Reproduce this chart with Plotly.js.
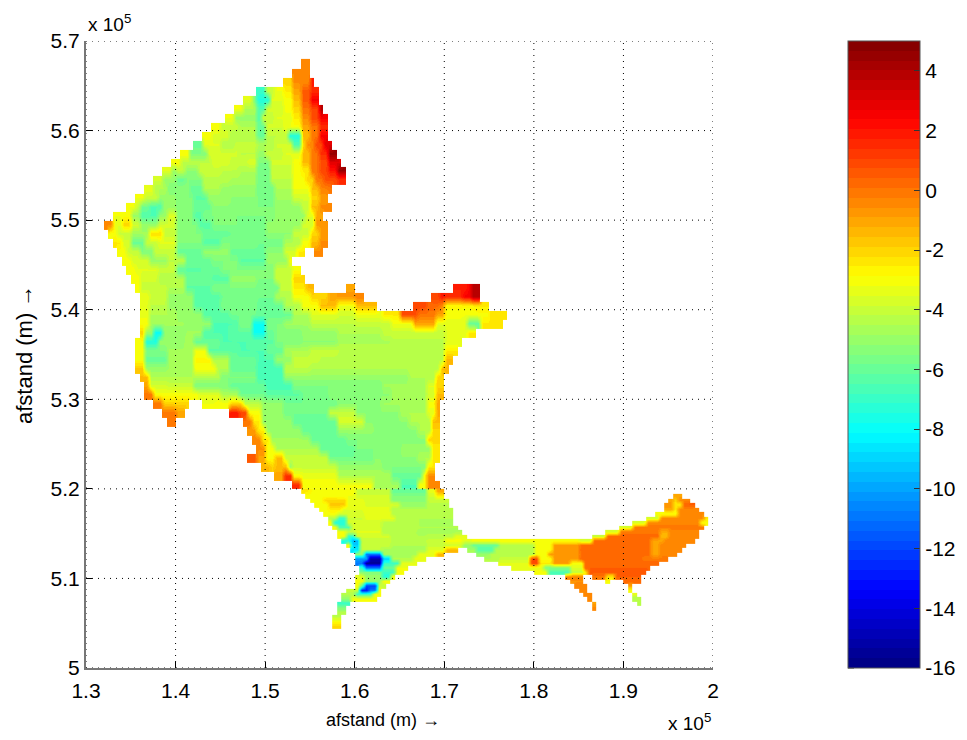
<!DOCTYPE html>
<html><head><meta charset="utf-8">
<script src="https://cdn.plot.ly/plotly-3.0.1.min.js"></script>
<style>html,body{margin:0;padding:0;background:#fff}</style></head>
<body><div id="chart" style="width:967px;height:740px"></div>
<script>
// Tick labels
const xTickVals=[130,140,150,160,170,180,190,200];
const xTickText=['1.3','1.4','1.5','1.6','1.7','1.8','1.9','2'];
const yTickVals=[500,510,520,530,540,550,560,570];
const yTickText=['5','5.1','5.2','5.3','5.4','5.5','5.6','5.7'];
const barTicks=[-16,-14,-12,-10,-8,-6,-4,-2,0,2,4];
// Depth. Each row: [y in km, [x0, x1, value], ...], x in km
const mainRows=[
[567,[154,155,-0.5]],
[566,[153,155,-0.5]],
[565,[152,153,-2],[153,155,-0.5],[155,155.5,2]],
[564,[149,150,-7],[150,151,-4],[151,152,-3.2],[152,153,-2.5],[153,154,-1],[154,155,0.5],[155,156,1.5]],
[563,[147.5,148.5,-3.5],[148.5,149,-5.5],[149,150.5,-7.5],[150.5,152,-3.5],[152,153,-3],[153,154,-1.5],[154,155,0.5],[155,156,2.5]],
[562,[146.5,147.5,-3.2],[147.5,149,-4.5],[149,150,-6.5],[150,152,-3.8],[152,153,-3],[153,154,-2],[154,155,0],[155,156,1],[156,156.5,4]],
[561,[145.5,146.5,-3.2],[146.5,149,-5],[149,149.5,-6.5],[149.5,151,-4],[151,153,-3.5],[153,154,-2.5],[154,155,-0.5],[155,156,1],[156,157,2.5]],
[560,[144,145,-3],[145,147,-4],[147,149,-4.5],[149,150,-6],[150,152,-3.8],[152,153,-3.2],[153,154,-3],[154,155,-1],[155,156,0],[156,157,1.5]],
[559,[143,144,-3],[144,146,-3.7],[146,149,-4.5],[149,150,-6],[150,152.5,-4.2],[152.5,154,-7.5],[154,155,-1.5],[155,156,0],[156,157,2.5]],
[558,[142,143,-6],[143,145,-3.5],[145,146.5,-4.5],[146.5,149,-4],[149,151,-4.5],[151,153,-3.8],[153,154,-6.5],[154,154.5,-2],[154.5,155.5,-0.5],[155.5,156.5,1],[156.5,157.5,3]],
[557,[140.5,141.5,-3],[141.5,143.5,-5.5],[143.5,147,-3.8],[147,149,-4.2],[149,150,-5],[150,152,-4],[152,154,-3.5],[154,155,-1.5],[155,156,0],[156,157,1.5],[157,158,4.5]],
[556,[139.5,140.5,-3],[140.5,144,-4.2],[144,146,-3.6],[146,148,-4],[148,149,-3.6],[149,150.5,-5.5],[150.5,153,-3.8],[153,154,-3],[154,155,-1.5],[155,156,0],[156,157,0.8],[157,158.5,3]],
[555,[138.5,139.5,-3.5],[139.5,140,-5],[140,141,-4.2],[141,142.5,-5.2],[142.5,145,-4],[145,147,-4.2],[147,149,-4.5],[149,150.5,-5.8],[150.5,153,-4],[153,154,-3],[154,155,-2.5],[155,156,0],[156,157,1],[157,158,2],[158,159,4.5]],
[554,[137.5,138.5,-3.8],[138.5,140,-5],[140,141,-6],[141,143,-5.5],[143,146,-4.3],[146,149,-4.6],[149,150.5,-5.8],[150.5,153,-4.2],[153,154.5,-3],[154.5,155.5,-2],[155.5,156.5,0],[156.5,158,0.8],[158,159,1.5]],
[553,[136.5,137.5,-3.3],[137.5,139,-4.5],[139,140,-5.5],[140,141.5,-5.2],[141.5,143,-6],[143,145,-4.5],[145,149,-5],[149,151,-5.8],[151,153,-4.5],[153,155,-3.2],[155,156,-1.5],[156,157,-0.3],[157,157.5,0]],
[552,[135.5,136.5,-3.2],[136.5,138,-4],[138,140,-5],[140,142,-5.5],[142,143.5,-6.2],[143.5,146,-5],[146,149,-5.2],[149,151,-5.6],[151,153,-4.8],[153,155,-3.8],[155,156,-2],[156,157,-0.8]],
[551,[134.5,135.5,-3.2],[135.5,136,-4],[136,137,-5.8],[137,138.5,-6.5],[138.5,140,-5],[140,142,-5.5],[142,144,-6],[144,147,-5.2],[147,151,-5.5],[151,154,-5],[154,155,-4],[155,156,-1.5],[156,157.5,-0.5]],
[550,[133,134,-3.2],[134,135,-3],[135,136,-5],[136,138,-6.5],[138,139,-5],[139,140,-3.5],[140,142,-5.5],[142,143,-6.3],[143,146,-5.5],[146,151,-5.5],[151,154.5,-5],[154.5,155.5,-3.5],[155.5,156.5,-1]],
[549,[132,133,-0.5],[133,134,-3.5],[134,135,-2],[135,136,-3.8],[136,138,-5],[138,140,-3.8],[140,142.5,-5.5],[142.5,144,-6.3],[144,147,-5.5],[147,150,-5.7],[150,154,-5],[154,155.5,-3.8],[155.5,156.8,-0.8]],
[548,[132.5,133.5,-3],[133.5,135,-4],[135,137,-4.8],[137,138.5,-2.2],[138.5,140,-4],[140,143,-5.5],[143,146,-6],[146,150,-5.8],[150,153,-5.2],[153,155,-4],[155,156,-2],[156,157,-0.8]],
[547,[133,134,-2.5],[134,135,-3.8],[135,136.5,-6],[136.5,138,-4],[138,140,-3.5],[140,143,-5.5],[143,145,-6.3],[145,149,-5.5],[149,152,-5.8],[152,154,-4.5],[154,155,-3],[155,156,-1.5],[156,157,-0.5]],
[546,[133.5,134.5,-3],[134.5,136,-4],[136,137.5,-5.5],[137.5,140,-4],[140,143,-6],[143,146,-5],[146,150,-6],[150,152,-5.2],[152,153.5,-3.8],[153.5,154.5,-2.5],[155.5,156.5,-0.5]],
[545,[134,135,-3],[135,137,-3.7],[137,139,-5],[139,141,-4.2],[141,144,-6],[144,147,-5.5],[147,150,-6.2],[150,152.5,-5],[152.5,153,-3]],
[544,[134.5,135.5,-3],[135.5,138,-3.5],[138,140,-4],[140,143,-6.2],[143,145,-6],[145,148,-5.5],[148,151,-5.5],[151,153,-4],[153,154,-3]],
[543,[135,136,-3],[136,138,-3.8],[138,141,-4.5],[141,144,-6],[144,146,-6.3],[146,149,-5],[149,151,-5.5],[151,153,-4],[153,154.5,-2]],
[542,[135.5,136,-3],[136,139,-4],[139,141,-4.5],[141,144,-6.2],[144,146,-5.5],[146,149,-5.5],[149,151.5,-5.8],[151.5,153,-4],[153,154.5,-2.5],[154.5,155.5,-1.5],[159,160,-1],[171,172.5,1.8],[172.5,173,2.5],[173,174,4]],
[541,[136,137,-3.2],[137,139,-4],[139,142,-5],[142,145,-6.3],[145,149,-5.8],[149,151,-5.8],[151,153,-4.5],[153,155,-3],[155,157,-2],[157,158,-1],[158,160,-0.8],[160,161,-0.3],[168.5,169.5,1],[169.5,170,2],[170,172,1.5],[172,173,2.5],[173,174,4]],
[540,[136,137,-3.5],[137,139,-4.2],[139,142,-5],[142,145,-6.3],[145,149,-5.5],[149,152,-6],[152,154,-4.5],[154,156,-3],[156,158,-1.5],[158,160,-3.2],[160,162.5,-1.5],[166.5,168,1],[168,169.5,0.2],[169.5,170,-0.5],[170,173,-2.8],[173,175,-2.5]],
[539,[136,137,-3.3],[137,140,-4.5],[140,143,-5],[143,146,-6.3],[146,149,-5.8],[149,153,-6],[153,155,-4.5],[155,158,-3.5],[158,160,-3.8],[160,163,-3.3],[163,165,-2.5],[165,167,0.8],[167,169,0],[169,170,-1],[170,172,-3],[172,173.5,-3.2],[173.5,175,-3],[175,177,-2.3]],
[538,[136,137,-3],[137,141,-4.8],[141,144,-5],[144,147,-6.5],[147,148.5,-5.5],[148.5,150,-7.8],[150,152,-5.5],[152,155,-4.8],[155,160,-4.2],[160,164,-4],[164,166.5,-3.2],[166.5,169,-1],[169,172.5,-3.5],[172.5,174,-6],[174,176.5,-2.5]],
[537,[136,136.5,-2],[136.5,137.5,-5],[137.5,138.5,-8],[138.5,141,-5],[141,143,-4.8],[143,146,-6.5],[146,148.5,-6.2],[148.5,150,-7.8],[150,151,-6],[151,154,-5.5],[154,158,-5],[158,163,-4.5],[163,170,-4],[170,172.5,-3.5],[172.5,173.5,-2.5]],
[536,[135.5,136.5,-3],[136.5,138,-7.5],[138,141,-5],[141,142,-4.5],[142,145,-6],[145,148,-6.5],[148,151,-6.2],[151,154,-5.5],[154,158,-5.2],[158,164,-4.6],[164,170,-4.3],[170,172,-3.5]],
[535,[135.5,136.5,-3.2],[136.5,139,-5.5],[139,142,-4.8],[142,143.5,-3.2],[143.5,147,-6.2],[147,150,-6.5],[150,152,-6],[152,155,-4.5],[155,158,-4],[158,164,-4.2],[164,170,-4.3],[170,171.5,-2.5]],
[534,[135.5,136.5,-3],[136.5,139,-6],[139,142,-4.8],[142,144,-2.8],[144,146,-4.5],[146,149,-6],[149,151,-6.5],[151,153,-5],[153,156,-4],[156,161,-4.3],[161,170,-4.3],[170,171,-1.5]],
[533,[135.5,136.5,-1.8],[136.5,139,-5],[139,142,-4.8],[142,144.5,-3],[144.5,146,-4.5],[146,149,-6],[149,152,-6.7],[152,155,-4.2],[155,158,-4.5],[158,166,-4.5],[166,169.5,-4.3],[169.5,170.5,-1.5]],
[532,[136,137,-1.5],[137,141,-4.5],[141,145,-4.5],[145,149,-5.5],[149,152,-6.7],[152,156,-5],[156,160,-5],[160,166,-5],[166,169,-4.5],[169,170,-2]],
[531,[136.5,137,-1],[137,139,-3.8],[139,142,-4],[142,146,-5.5],[146,150,-6],[150,153,-6.7],[153,157,-5.5],[157,163,-5.5],[163,168,-4.8],[168,169,-3.5],[169,170,-2]],
[530,[136.5,137.5,0],[137.5,140,-3],[140,142.5,-3],[142.5,145,-3.5],[145,147,-4.5],[147,150,-5.8],[150,154,-6.2],[154,157,-5.8],[157,164,-5.2],[164,168,-4.6],[168,169,-3.8],[169,170,-1.5]],
[529,[137.5,138.5,0],[138.5,141.5,-2],[143,144.5,-3.2],[144.5,146,-3],[146,147.5,-2],[147.5,149.5,-4.2],[149.5,152,-5],[152,158,-5.8],[158,163,-5.2],[163,168,-4.8],[168,169,-3],[169,169.5,-1]],
[528,[138.5,140,0],[140,141,-1],[146,147,2],[147,148,1],[148,149.5,-3],[149.5,152,-5],[152,157,-5.8],[157,160,-4],[160,165,-5.2],[165,168,-4.5],[168,169,-3.5],[169,169.5,-1]],
[527,[139,140,0],[147.5,148.5,0],[148.5,149.5,-2.5],[149.5,153,-5],[153,158,-6],[158,161,-3.7],[161,166,-5.2],[166,168.5,-4.5],[168.5,169.5,-1.5]],
[526,[148,149,-0.8],[149,150,-2.5],[150,154,-5],[154,158,-6],[158,162,-5],[162,167,-5.3],[167,168.5,-4.5],[168.5,169.5,-2]],
[525,[148.5,149.5,-0.3],[149.5,150.5,-2.5],[150.5,155,-4.8],[155,159,-6],[159,163,-5.5],[163,168,-5.3],[168,169.5,-2]],
[524,[149,150,-0.5],[150,151,-3],[151,156,-4.5],[156,160,-6],[160,165,-5.5],[165,168.5,-5],[168.5,169.5,-2.5]],
[523,[148,149,0.5],[149,150,-1],[150,151,-3],[151,152,-1.5],[152,157,-4],[157,162,-5.8],[162,167,-5.2],[167,168.5,-4.5],[168.5,169.5,-2.5]],
[522,[149.5,150.5,-1.5],[150.5,151,-2],[151,152.5,-1.5],[152.5,153,-5],[153,158,-4],[158,163,-5],[163,168,-5.5],[168,169,-2.5]],
[521,[151,152,-1],[152,153,1.5],[153,154,-3],[154,158,-3.3],[158,164,-4.5],[164,167.5,-6],[167.5,168,-3],[168,169,-0.5]],
[520,[153,154,1.5],[154,158,-3],[158,162,-3.2],[162,165,-4.8],[165,167,-6.5],[167,168,-3],[168,169.5,-0.5]]
];
const fineRows=[
[519.5,[154,155,-2.5],[155,160,-3],[160,164,-4],[164,168,-6],[168,169,-3.3],[169,170,-1]],
[519,[154.5,158,-3],[158,160,-3.2],[160,164,-3.8],[164,168,-5.5],[168,169,-3.8],[169,170,-2.5],[195.5,196.5,-1]],
[518.5,[155,156.5,-3],[156.5,159,-2],[159,161,-3.3],[161,164,-3.8],[164,168,-5.3],[168,170.5,-4],[195,195.5,-1],[195.5,196,-2],[196,197.5,-0.5]],
[518,[155.5,157,-3],[157,159,-1.8],[159,161,-3.3],[161,165,-3.7],[165,168,-5],[168,170.5,-4.3],[194.5,195.5,-0.8],[195.5,196.5,-2.5],[196.5,198,0.5]],
[517.5,[156,157,-3],[157,158.5,-2.5],[158.5,161,-3.5],[161,164,-3.3],[164,167,-4.5],[167,171,-4.5],[194.5,195.5,-1],[195.5,196,-2.5],[196,198.5,-0.5]],
[517,[156.5,158,-3],[158,161,-3.7],[161,164,-3.2],[164,167,-4.3],[167,171,-4.5],[193.5,196,-3],[196,199,-0.5]],
[516.5,[157,158,-4.5],[158,159,-7],[159,161,-3.9],[161,164.5,-3.4],[164.5,167,-4.5],[167,171,-4.5],[192.5,194,-3.8],[194,199,-0.5],[199,199.5,-2.5]],
[516,[157,157.5,-3],[157.5,159,-7.5],[159,163,-3.8],[163,167,-4.3],[167,171,-4.6],[191,192.5,-3.8],[192.5,198.5,-0.3],[198.5,199.5,-3]],
[515.5,[157.5,158,-3],[158,159.5,-6.5],[159.5,163,-3.7],[163,167,-4.4],[167,171.5,-4.5],[189.5,191,-3.8],[191,199,-0.2]],
[515,[158,159,-3.2],[159,160,-4],[160,163,-3.5],[163,167,-4.5],[167,172,-4.6],[188,189.5,-3.8],[189.5,194,0],[194,195,-1.2],[195,198.5,-0.3]],
[514.5,[158,159,-3],[159,160,-7],[160,164,-3.8],[164,168,-4.5],[168,171,-4.4],[171,172.5,-3.5],[186.5,188,-4],[188,194,0.2],[194,195,-1.5],[195,198.5,-0.3]],
[514,[158.5,159.5,-7.5],[159.5,160.5,-9.5],[160.5,164,-4],[164,168,-4.3],[168,170,-4],[170,172,-3],[172,173,-3.5],[173,185,-3],[185,186.5,-3.8],[186.5,193,0.3],[193,194.5,-1],[194.5,198,-0.3]],
[513.5,[159,159.5,-3],[159.5,160.5,-9],[160.5,164,-4],[164,168,-4.5],[168,170.5,-4],[170.5,172,-3.8],[172,173,-5],[173,176,-6],[176,180,-4.5],[180,182,-3],[182,185,-0.8],[185,193,0.3],[193,194,-1],[194,197,-0.3]],
[513,[159.5,160.5,-8.5],[160.5,163,-4.2],[163,168,-4.6],[168,170,-3.5],[170,171.5,-1.5],[172.5,173.5,-4.8],[173.5,175.5,-6.5],[175.5,180,-4.5],[180,182,-3],[182,185,-0.8],[185,191,0.4],[191,193,0.2],[193,194,-1],[194,196.5,-0.3]],
[512.5,[160,161,-5],[161,163,-11],[163,167,-4.6],[167,169,-3.3],[169,170,-1.5],[173.5,175,-5],[175,180,-4.5],[180,181.5,-3.2],[181.5,185,-0.8],[185,193,0.3],[193,194,-1],[194,196,-0.3]],
[512,[160,161.5,-10],[161.5,163,-15],[163,164,-9],[164,166.5,-4.5],[166.5,168,-3.3],[174.5,176,-4.5],[176,179.5,-4],[179.5,180.5,0.8],[180.5,182,-3],[182,185,-0.8],[185,192,0.4],[192,195,-0.2]],
[511.5,[160,161,-11],[161,163,-15.5],[163,165,-7],[165,167,-3.5],[176,179.5,-3.5],[179.5,180.5,1],[180.5,182,-2.5],[182,184,-0.8],[184,185.5,-3],[185.5,194,0.4]],
[511,[160.5,161,-7],[161,163,-11],[163,164.5,-6],[164.5,166,-3.2],[177.5,181,-3.3],[181,184,-5.5],[184,185.5,-3.5],[185.5,193,0.4]],
[510.5,[160.5,163,-5.5],[163,164.5,-7],[164.5,165.5,-3],[180,181.5,-3],[181.5,184,-6.5],[184,185.5,-4],[185.5,186,-2.5],[186,192.5,0.5]],
[510,[160,161,-3.5],[161,163,-5],[163,164,-7.5],[164,164.5,-3],[183.5,185.5,-0.5],[186.5,188,0],[188,189,-2.5],[189,192,0.4]],
[509.5,[160,161,-3],[161,163,-5],[163,164,-3],[184,185.5,-0.6],[188,188.5,-3],[190,192,0.2]],
[509,[160,160.5,-3],[160.5,161,-6],[161,162.5,-12],[162.5,163.5,-4],[184.5,186,-0.5],[190.5,191,-1]],
[508.5,[159,160.5,-4],[160.5,161.5,-13],[161.5,162.5,-11],[162.5,163,-3],[185,186,-0.5],[190.5,191,-3]],
[508,[158.5,160,-4.5],[160,162,-7],[162,163,-3],[185.5,186.5,-0.5],[191,191.5,-3.5]],
[507.5,[158.5,159.5,-5],[159.5,162.5,-3.2],[186,186.5,-0.5],[191,192,-4.5]],
[507,[158,159.5,-7],[186.5,187,-1],[191.5,192,-4.5]],
[506.5,[158,159,-5.5],[186.5,187,-0.5]],
[506,[158,159,-4.5]],
[505.5,[157.5,158.5,-4.2]],
[505,[157.5,158.5,-3]],
[504.5,[157.5,158.5,-2.2]]
];
// Jet colormap, 64 flat bands
function jet(t){const c=v=>Math.round(255*Math.max(0,Math.min(1,1.5-Math.abs(4*t-v))));return `rgb(${c(3)},${c(2)},${c(1)})`;}
const scale=[];for(let i=0;i<64;i++){const col=jet((i+.5)/64);scale.push([i/64,col],[(i+1)/64,col]);}
function grid(rows,x0,x1,y0,y1,dx,dy){
  const xs=[],ys=[],z=[];
  const nx=Math.round((x1-x0)/dx),ny=Math.round((y1-y0)/dy);
  for(let i=0;i<=nx;i++)xs.push(x0+i*dx);
  for(let j=0;j<=ny;j++)ys.push(y0+j*dy);
  for(let j=0;j<ny;j++)z.push(new Array(nx).fill(null));
  rows.forEach(r=>{const j=Math.round((r[0]-y0)/dy);
    r.slice(1).forEach(s=>{for(let i=Math.round((s[0]-x0)/dx);i<Math.round((s[1]-x0)/dx);i++)z[j][i]=s[2];});});
  return {type:'heatmap',x:xs,y:ys,z:z,coloraxis:'coloraxis',connectgaps:false,zsmooth:'best'};
}
const traces=[grid(mainRows,130,180,520,568,0.5,1),grid(fineRows,150,200,504,520,0.5,0.5)];
const shapes=[];
const dots={color:'#000',width:1,dash:'1px,5px'};
xTickVals.forEach(v=>shapes.push({type:'line',xref:'x',yref:'paper',x0:v,x1:v,y0:0,y1:1,line:dots,layer:'above'}));
yTickVals.forEach(v=>shapes.push({type:'line',xref:'paper',yref:'y',x0:0,x1:1,y0:v,y1:v,line:dots,layer:'above'}));
const barLeft=(848-86)/627;
barTicks.forEach(v=>{const p=(v+16)/21;shapes.push({type:'line',xref:'paper',yref:'paper',x0:barLeft,x1:barLeft+6/627,y0:p,y1:p,line:{color:'#333',width:1},layer:'above'});});
const fnt={family:'Liberation Sans, Arial, sans-serif',color:'#000'};
const layout={
  width:967,height:740,margin:{l:86,r:254,t:41,b:72,autoexpand:false},paper_bgcolor:'#fff',plot_bgcolor:'#fff',showlegend:false,
  xaxis:{range:[130,200],tickmode:'array',tickvals:xTickVals,ticktext:xTickText,ticks:'inside',ticklen:6,tickcolor:'#000',showgrid:false,zeroline:false,showline:true,linecolor:'#777',linewidth:2,layer:'above traces',ticklabelstandoff:3,
    tickfont:Object.assign({size:21},fnt)},
  yaxis:{range:[500,570],tickmode:'array',tickvals:yTickVals,ticktext:yTickText,ticks:'inside',ticklen:6,tickcolor:'#000',showgrid:false,zeroline:false,showline:true,linecolor:'#777',linewidth:2,layer:'above traces',
    tickfont:Object.assign({size:21},fnt)},
  coloraxis:{cmin:-16,cmax:5,colorscale:scale,colorbar:{x:barLeft,xanchor:'left',xpad:0,ypad:0,y:0,yanchor:'bottom',len:1,thickness:72,outlinecolor:'#555',outlinewidth:1,
    tickmode:'array',tickvals:barTicks,ticktext:barTicks.map(String),ticks:'inside',ticklen:6,tickcolor:'#333',tickfont:Object.assign({size:21},fnt)}},
  shapes:shapes,
  annotations:[
    {xref:'paper',yref:'paper',x:0,y:1,xanchor:'left',yanchor:'bottom',yshift:4,text:'x 10<sup>5</sup>',showarrow:false,font:Object.assign({size:19},fnt)},
    {xref:'paper',yref:'paper',x:1,y:0,xanchor:'right',yanchor:'top',yshift:-40,text:'x 10<sup>5</sup>',showarrow:false,font:Object.assign({size:19},fnt)},
    {xref:'paper',yref:'paper',x:(383-86)/627,y:0,xanchor:'center',yanchor:'top',yshift:-40,text:'afstand (m) →',showarrow:false,font:Object.assign({size:18},fnt)},
    {xref:'paper',yref:'paper',x:-62/627,y:(668-355)/627,xanchor:'center',yanchor:'middle',textangle:-90,text:'afstand (m) →',showarrow:false,font:Object.assign({size:22},fnt)}
  ]
};
Plotly.newPlot('chart',traces,layout,{displayModeBar:false,staticPlot:true});
</script></body></html>
